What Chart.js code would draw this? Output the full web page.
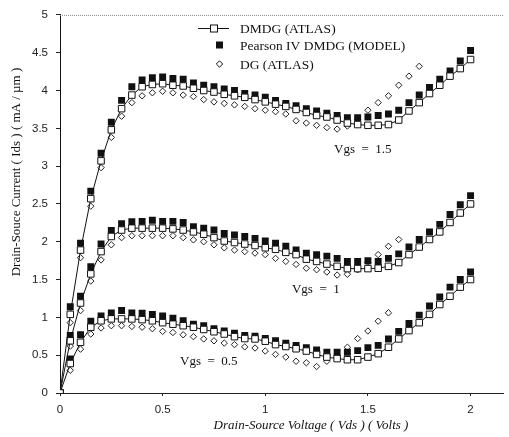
<!DOCTYPE html>
<html>
<head>
<meta charset="utf-8">
<script src="https://cdn.jsdelivr.net/npm/chart.js@4/dist/chart.umd.min.js"></script>
<style>
  html, body { margin: 0; padding: 0; background: #fff; }
  #wrap { width: 509px; height: 437px; }
</style>
</head>
<body>
<div id="wrap"><canvas id="ids" width="509" height="437"></canvas></div>
<script>
// drain-source voltage samples (V)
const vds = [0, 0.05, 0.1, 0.15, 0.2, 0.25, 0.3, 0.35, 0.4, 0.45, 0.5, 0.55, 0.6, 0.65, 0.7, 0.75, 0.8, 0.85, 0.9, 0.95,
  1, 1.05, 1.1, 1.15, 1.2, 1.25, 1.3, 1.35, 1.4, 1.45, 1.5, 1.55, 1.6, 1.65, 1.7, 1.75, 1.8, 1.85, 1.9, 1.95, 2];

// DMDG (ATLAS), mA/um
const atlas15 = [0, 1.04, 1.89, 2.57, 3.07, 3.48, 3.76, 3.94, 4.05, 4.08, 4.09, 4.07, 4.06, 4.03, 4.0, 3.98, 3.95, 3.93, 3.91, 3.88,
  3.85, 3.82, 3.79, 3.75, 3.71, 3.67, 3.65, 3.61, 3.57, 3.55, 3.54, 3.54, 3.55, 3.61, 3.73, 3.84, 3.96, 4.07, 4.19, 4.29, 4.41];
const atlas10 = [0, 0.69, 1.19, 1.575, 1.87, 2.07, 2.155, 2.18, 2.18, 2.18, 2.18, 2.17, 2.155, 2.13, 2.10, 2.055, 2.01, 1.99, 1.97, 1.95,
  1.92, 1.90, 1.86, 1.83, 1.77, 1.74, 1.705, 1.675, 1.645, 1.645, 1.645, 1.65, 1.675, 1.725, 1.83, 1.93, 2.03, 2.13, 2.255, 2.38, 2.50];
const atlas05 = [0, 0.39, 0.67, 0.87, 0.955, 0.98, 0.98, 0.98, 0.97, 0.955, 0.93, 0.91, 0.89, 0.87, 0.84, 0.81, 0.78, 0.745, 0.72, 0.715,
  0.685, 0.64, 0.615, 0.585, 0.555, 0.51, 0.475, 0.455, 0.44, 0.44, 0.475, 0.52, 0.605, 0.715, 0.825, 0.93, 1.04, 1.17, 1.28, 1.40, 1.50];

// Pearson IV DMDG (MODEL)
const model15 = [0, 1.14, 1.98, 2.67, 3.17, 3.58, 3.87, 4.05, 4.14, 4.17, 4.18, 4.16, 4.15, 4.10, 4.07, 4.05, 4.02, 4.0, 3.96, 3.94,
  3.91, 3.87, 3.83, 3.80, 3.76, 3.73, 3.70, 3.67, 3.64, 3.64, 3.65, 3.67, 3.69, 3.74, 3.84, 3.94, 4.04, 4.15, 4.26, 4.39, 4.53];
const model10 = [0, 0.76, 1.28, 1.67, 1.97, 2.15, 2.24, 2.265, 2.27, 2.285, 2.27, 2.27, 2.255, 2.20, 2.18, 2.155, 2.11, 2.09, 2.07, 2.045,
  2.01, 1.98, 1.94, 1.89, 1.85, 1.83, 1.81, 1.78, 1.74, 1.74, 1.75, 1.74, 1.78, 1.84, 1.93, 2.03, 2.13, 2.23, 2.36, 2.49, 2.61];
const model05 = [0, 0.45, 0.77, 0.95, 1.02, 1.06, 1.09, 1.06, 1.055, 1.04, 1.02, 0.99, 0.955, 0.91, 0.89, 0.85, 0.82, 0.79, 0.76, 0.75,
  0.72, 0.69, 0.66, 0.63, 0.60, 0.57, 0.54, 0.54, 0.54, 0.56, 0.60, 0.63, 0.715, 0.815, 0.92, 1.03, 1.15, 1.27, 1.40, 1.50, 1.60];

// DG (ATLAS) - shorter sweeps
const dg15 = [0, 0.93, 1.79, 2.47, 2.98, 3.38, 3.66, 3.84, 3.93, 3.97, 3.99, 3.97, 3.94, 3.92, 3.88, 3.85, 3.83, 3.81, 3.79, 3.76,
  3.74, 3.72, 3.69, 3.60, 3.57, 3.54, 3.51, 3.49, 3.53, 3.62, 3.74, 3.84, 3.93, 4.07, 4.19, 4.32];
const dg10 = [0, 0.62, 1.09, 1.48, 1.76, 1.96, 2.055, 2.08, 2.08, 2.08, 2.08, 2.08, 2.055, 2.025, 2.0, 1.96, 1.92, 1.89, 1.87, 1.85,
  1.83, 1.78, 1.74, 1.70, 1.65, 1.63, 1.60, 1.56, 1.57, 1.63, 1.73, 1.83, 1.94, 2.03];
const dg05 = [0, 0.30, 0.58, 0.78, 0.86, 0.89, 0.89, 0.88, 0.87, 0.85, 0.815, 0.80, 0.77, 0.745, 0.715, 0.69, 0.66, 0.64, 0.61, 0.595,
  0.555, 0.51, 0.475, 0.42, 0.40, 0.35, 0.42, 0.50, 0.605, 0.72, 0.82, 0.95, 1.06];

const xTicks = [0, 0.5, 1, 1.5, 2];
const legendLabels = ["DMDG (ATLAS)", "Pearson IV DMDG (MODEL)", "DG (ATLAS)"];
const curveLabels = [
  { text: "Vgs  =  1.5", vds: 1.335, ids: 3.22 },
  { text: "Vgs  =  1", vds: 1.13, ids: 1.37 },
  { text: "Vgs  =  0.5", vds: 0.585, ids: 0.42 },
];

const SERIF = '"Liberation Serif", "Times New Roman", serif';
const SANS = '"Liberation Sans", Arial, sans-serif';

function pts(ys) {
  return ys.map((y, i) => ({ x: vds[i], y }));
}

function atlasSet(ys) {
  return {
    data: pts(ys), showLine: true, borderColor: "#111", borderWidth: 1,
    pointStyle: "rect", pointRadius: 4.6, pointBorderWidth: 1,
    pointBackgroundColor: "#fff", pointBorderColor: "#111", order: 1,
  };
}
function modelSet(ys) {
  return {
    data: pts(ys), showLine: false, pointStyle: "rect", pointRadius: 4.9,
    pointBorderWidth: 0, pointBackgroundColor: "#111", pointBorderColor: "#111", order: 2,
  };
}
function dgSet(ys) {
  return {
    data: pts(ys), showLine: false, pointStyle: "rectRot", pointRadius: 3.2,
    pointBorderWidth: 1, pointBackgroundColor: "#fff", pointBorderColor: "#222", order: 3,
  };
}

const overlay = {
  id: "overlay",
  beforeDatasetsDraw(chart) {
    const { ctx, chartArea } = chart;
    // dotted frame line along the top
    ctx.save();
    ctx.strokeStyle = "#888";
    ctx.lineWidth = 1;
    ctx.setLineDash([1, 1]);
    ctx.beginPath();
    ctx.moveTo(chartArea.left, chartArea.top + 0.5);
    ctx.lineTo(chartArea.right, chartArea.top + 0.5);
    ctx.stroke();
    ctx.restore();
  },
  afterDraw(chart) {
    const { ctx, scales } = chart;
    ctx.save();
    ctx.fillStyle = "#111";
    ctx.strokeStyle = "#111";
    ctx.textBaseline = "middle";

    // legend
    const lx = 214, ly = [28, 45, 64];
    ctx.lineWidth = 1;
    ctx.beginPath();
    ctx.moveTo(198, ly[0] + 0.5);
    ctx.lineTo(229, ly[0] + 0.5);
    ctx.stroke();
    ctx.fillStyle = "#fff";
    ctx.fillRect(lx - 3.5, ly[0] - 3, 7, 7);
    ctx.strokeRect(lx - 3.5, ly[0] - 3, 7, 7);
    ctx.fillStyle = "#111";
    ctx.fillRect(lx + 2, ly[1] - 3.5, 7, 7);
    ctx.beginPath();
    ctx.moveTo(lx + 5.5, ly[2] - 3.2);
    ctx.lineTo(lx + 8.7, ly[2]);
    ctx.lineTo(lx + 5.5, ly[2] + 3.2);
    ctx.lineTo(lx + 2.3, ly[2]);
    ctx.closePath();
    ctx.stroke();

    ctx.font = "13.5px " + SERIF;
    ctx.textAlign = "left";
    legendLabels.forEach((t, i) => ctx.fillText(t, 240, ly[i] + 1));

    // Vgs annotations
    ctx.font = "13px " + SERIF;
    curveLabels.forEach((c) => {
      ctx.fillText(c.text, scales.x.getPixelForValue(c.vds), scales.y.getPixelForValue(c.ids));
    });

    // axis titles
    ctx.textAlign = "center";
    ctx.font = "italic 13px " + SERIF;
    ctx.fillText("Drain-Source Voltage ( Vds ) ( Volts )", 311, 426);
    ctx.translate(17, 172);
    ctx.rotate(-Math.PI / 2);
    ctx.font = "13px " + SERIF;
    ctx.fillText("Drain-Souce Current ( Ids ) ( mA / \u00b5m )", 0, 0);
    ctx.restore();
  },
};

new Chart(document.getElementById("ids"), {
  type: "scatter",
  data: {
    datasets: [
      atlasSet(atlas15), atlasSet(atlas10), atlasSet(atlas05),
      modelSet(model15), modelSet(model10), modelSet(model05),
      dgSet(dg15), dgSet(dg10), dgSet(dg05),
    ],
  },
  options: {
    responsive: false,
    animation: false,
    devicePixelRatio: 1,
    layout: { padding: { top: 11, right: 0, left: 0, bottom: 0 } },
    plugins: { legend: { display: false }, tooltip: { enabled: false } },
    scales: {
      x: {
        type: "linear", min: 0, max: 2.16,
        afterBuildTicks: (axis) => { axis.ticks = xTicks.map((v) => ({ value: v })); },
        afterFit: (axis) => { axis.height = 44; },
        grid: { drawOnChartArea: false, drawTicks: true, tickLength: 3, color: "#222" },
        border: { display: true, color: "#222", width: 1 },
        ticks: { padding: 7, color: "#222", font: { family: SANS, size: 11.5 }, callback: (v) => String(v) },
      },
      y: {
        min: 0, max: 5,
        afterFit: (axis) => { axis.width = 60; },
        grid: { drawOnChartArea: false, drawTicks: true, tickLength: 4, color: "#222" },
        border: { display: true, color: "#111", width: 1 },
        ticks: { stepSize: 0.5, padding: 8, color: "#222", font: { family: SANS, size: 11.5 }, callback: (v) => String(v) },
      },
    },
  },
  plugins: [overlay],
});
</script>
</body>
</html>
